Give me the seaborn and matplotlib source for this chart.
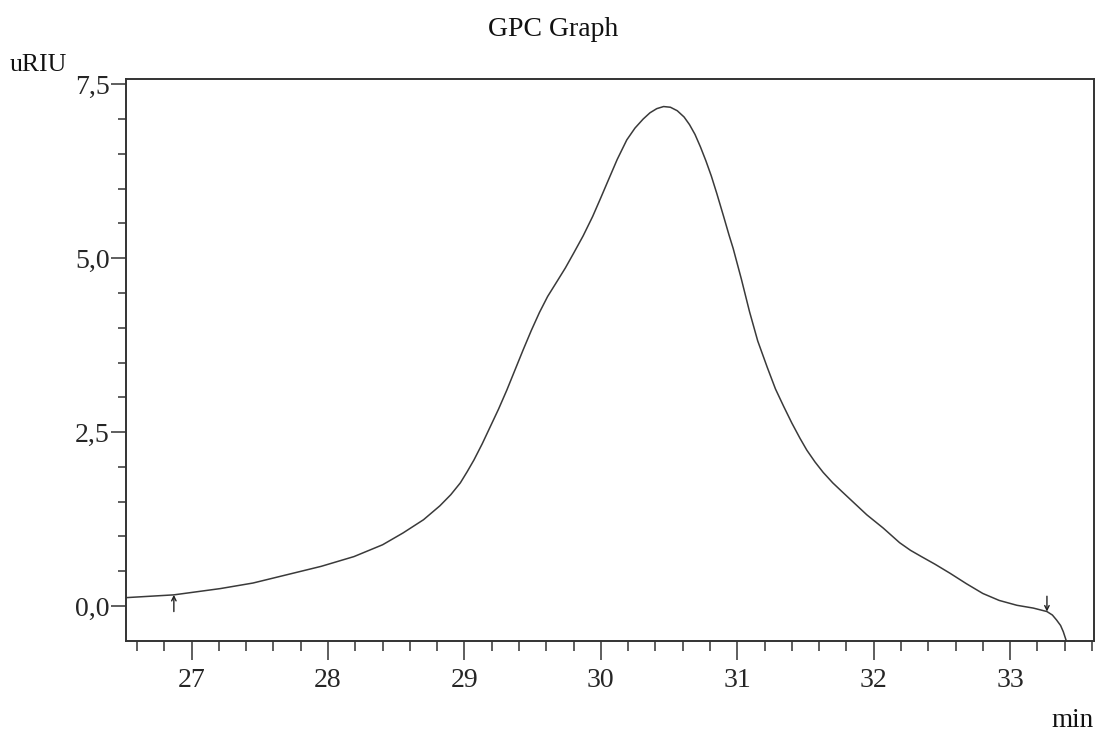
import matplotlib
matplotlib.use("Agg")
import matplotlib.pyplot as plt
from matplotlib.ticker import MultipleLocator, FuncFormatter
import numpy as np
import pandas as pd
import seaborn as sns

# Retention time (min) and refractive-index detector response (uRIU)
retention_min = [
    26.52, 26.87, 27.21, 27.45, 27.70, 27.95, 28.19, 28.40, 28.55, 28.70,
    28.82, 28.90, 28.97, 29.02, 29.07, 29.13, 29.19, 29.25, 29.31, 29.37,
    29.43, 29.49, 29.55, 29.61, 29.68, 29.74, 29.80, 29.87, 29.94, 30.00,
    30.05, 30.12, 30.19, 30.25, 30.31, 30.36, 30.41, 30.46, 30.51, 30.56,
    30.61, 30.65, 30.69, 30.73, 30.77, 30.81, 30.85, 30.90, 30.94, 30.97,
    31.03, 31.09, 31.15, 31.22, 31.28, 31.34, 31.40, 31.46, 31.51, 31.57,
    31.63, 31.70, 31.77, 31.83, 31.95, 32.07, 32.19, 32.27, 32.35, 32.45,
    32.56, 32.68, 32.80, 32.92, 33.05, 33.17, 33.27, 33.31, 33.34, 33.37,
    33.39, 33.41,
]
signal_uriu = [
    0.12, 0.16, 0.25, 0.33, 0.45, 0.57, 0.71, 0.88, 1.05, 1.24,
    1.44, 1.60, 1.77, 1.93, 2.10, 2.33, 2.58, 2.83, 3.10, 3.39,
    3.68, 3.96, 4.22, 4.45, 4.67, 4.86, 5.07, 5.32, 5.60, 5.87,
    6.10, 6.42, 6.70, 6.87, 7.00, 7.09, 7.15, 7.18, 7.17, 7.12,
    7.03, 6.92, 6.78, 6.60, 6.40, 6.18, 5.93, 5.60, 5.33, 5.14,
    4.70, 4.23, 3.81, 3.43, 3.12, 2.87, 2.63, 2.41, 2.24, 2.07,
    1.92, 1.77, 1.64, 1.53, 1.31, 1.12, 0.91, 0.80, 0.71, 0.60,
    0.47, 0.32, 0.18, 0.08, 0.01, -0.03, -0.08, -0.13, -0.20, -0.28,
    -0.37, -0.49,
]

# Integration limits (start / end markers)
limit_times = [26.87, 33.27]
limit_directions = ["up", "down"]

y_ticks = [0.0, 2.5, 5.0, 7.5]
x_ticks = [27, 28, 29, 30, 31, 32, 33]

df = pd.DataFrame({"time": retention_min, "signal": signal_uriu})

sns.set_style("ticks")
plt.rcParams["font.family"] = ["Liberation Serif", "DejaVu Serif"]

W, H, DPI = 1104, 733, 100
fig = plt.figure(figsize=(W / DPI, H / DPI), dpi=DPI)
ax = fig.add_axes([125.7 / W, 1 - 640.7 / H, (1094 - 125.7) / W, (640.7 - 79) / H])

ink = "#333333"
sns.lineplot(data=df, x="time", y="signal", ax=ax, color="#3a3a3a",
             linewidth=1.1, estimator=None, sort=False)

ax.set_xlim(26.517, 33.615)
ax.set_ylim(-0.499, 7.576)

# Markers for integration limits
for t, d in zip(limit_times, limit_directions):
    yc = float(np.interp(t, retention_min, signal_uriu))
    if d == "up":
        start, end = yc - 0.24, yc
    else:
        start, end = yc + 0.22, yc
    ax.annotate("", xy=(t, end), xytext=(t, start),
                arrowprops=dict(arrowstyle="->", color="#222222", lw=1.0,
                                shrinkA=0, shrinkB=0, mutation_scale=8))

ax.set_xticks(x_ticks)
ax.xaxis.set_minor_locator(MultipleLocator(0.2))
ax.set_yticks(y_ticks)
ax.yaxis.set_minor_locator(MultipleLocator(0.5))
ax.yaxis.set_major_formatter(FuncFormatter(lambda v, p: f"{v:.1f}".replace(".", ",")))
ax.xaxis.set_major_formatter(FuncFormatter(lambda v, p: f"{int(round(v))}"))

for s in ax.spines.values():
    s.set_visible(True)
    s.set_color(ink)
    s.set_linewidth(1.4)

ax.tick_params(axis="x", which="major", length=14, width=1.1, color=ink,
               labelsize=20, pad=6, direction="out")
ax.tick_params(axis="x", which="minor", length=7, width=1.1, color=ink, direction="out")
ax.tick_params(axis="y", which="major", length=11, width=1.1, color=ink,
               labelsize=20, pad=0.5, direction="out")
ax.tick_params(axis="y", which="minor", length=5.5, width=1.1, color=ink, direction="out")
ax.set_xlabel("")
ax.set_ylabel("")

fig.text(0.5007, 1 - 35.7 / H, "GPC Graph", ha="center", va="baseline", fontsize=20, color="#111111")
fig.text(10 / W, 1 - 70.7 / H, "uRIU", ha="left", va="baseline", fontsize=18.5, color="#111111")
fig.text(1094 / W, 6 / H, "min", ha="right", va="baseline", fontsize=19.5, color="#111111")

fig.savefig("out.png", dpi=DPI, facecolor="white")
